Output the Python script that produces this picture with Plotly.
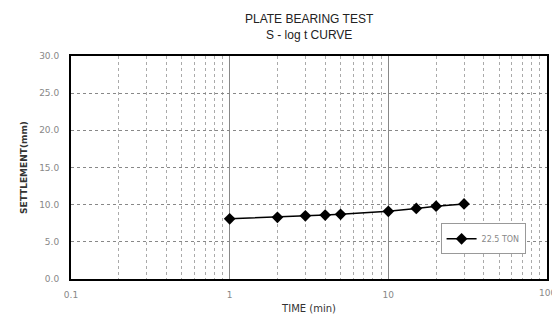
import plotly.graph_objects as go

time_min = [1, 2, 3, 4, 5, 10, 15, 20, 30]
settlement_mm = [8.1, 8.3, 8.5, 8.6, 8.7, 9.1, 9.5, 9.8, 10.1]
series_name = "22.5 TON"
x_major = [0.1, 1, 10, 100]
x_major_text = ["0.1", "1", "10", "100"]
x_minor = [m * d for d in (0.1, 1, 10) for m in range(2, 10)]
y_ticks = [0, 5, 10, 15, 20, 25, 30]

fig = go.Figure()
fig.add_trace(go.Scatter(
    x=time_min, y=settlement_mm, name=series_name, mode="lines+markers",
    line=dict(color="black", width=1.5),
    marker=dict(symbol="diamond", size=9, color="black"),
))

fig.update_layout(
    width=552, height=320,
    margin=dict(l=71, r=5, t=56, b=41, autoexpand=False),
    paper_bgcolor="white", plot_bgcolor="white",
    font=dict(family="DejaVu Sans, Arial", color="#888888", size=9),
    title=dict(text="PLATE BEARING TEST<br>S - log t CURVE", x=0.56, xanchor="center",
               y=0.927, yanchor="middle",
               font=dict(size=12, color="#222222", family="Liberation Sans, Arial")),
    showlegend=True,
    legend=dict(x=0.955, y=0.18, xanchor="right", yanchor="middle",
                bgcolor="white", bordercolor="#999999", borderwidth=1,
                font=dict(size=8, color="#888888"), itemwidth=30,
                tracegroupgap=0),
    xaxis=dict(
        type="log", range=[-1, 2],
        tickvals=x_major[:-1], ticktext=x_major_text[:-1],
        ticks="", showgrid=True, gridcolor="#888888", gridwidth=1,
        minor=dict(tickvals=x_minor, showgrid=True, gridcolor="#aaaaaa",
                   griddash="dot", gridwidth=1, ticks=""),
        showline=True, linecolor="black", linewidth=2, mirror=True,
        tickfont=dict(size=9, color="#888888"), ticklabelstandoff=6,
        title=dict(text="TIME (min)", font=dict(size=10, color="#333333"), standoff=6),
        zeroline=False,
    ),
    yaxis=dict(
        range=[0, 30], tickvals=y_ticks, tickformat=".1f",
        ticks="", showgrid=True, gridcolor="#888888", griddash="dot", gridwidth=1,
        showline=True, linecolor="black", linewidth=2, mirror=True,
        tickfont=dict(size=9, color="#888888"), ticklabelstandoff=8,
        title=dict(text="<b>SETTLEMENT(mm)</b>", font=dict(size=9, color="#333333"), standoff=10),
        zeroline=False,
    ),
    annotations=[dict(
        text=x_major_text[-1], xref="x", x=2, yref="paper", y=0,
        xanchor="center", yanchor="top", yshift=-7, showarrow=False,
        font=dict(size=9, color="#888888"),
    )],
)

fig.write_html("out.html", config={"displayModeBar": False},
               post_script="document.body.style.margin='0';")
